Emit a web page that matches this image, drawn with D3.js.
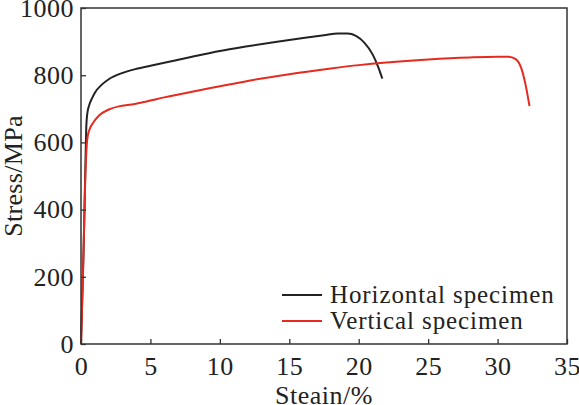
<!DOCTYPE html>
<html>
<head>
<meta charset="utf-8">
<script src="https://cdn.jsdelivr.net/npm/d3@7"></script>
<style>
  body { margin: 0; background: #fff; }
  text { font-family: "Liberation Serif", "Times New Roman", serif; fill: #222; }
</style>
</head>
<body>
<div id="chart"></div>
<script>
// dados
const seriesNames = ["Horizontal specimen", "Vertical specimen"];
const horizStrain = [0, 0.2, 0.3, 0.38, 0.45, 0.6, 0.8, 1, 1.5, 2, 3, 4, 5, 6, 8, 10, 12, 14, 16, 17.5, 18.5, 19.2, 19.8, 20.4, 21, 21.4, 21.7];
const horizStress = [0, 300, 500, 645, 685, 712, 732, 748, 772, 788, 807, 819, 828, 837, 855, 872, 886, 899, 911, 919, 924, 924, 917, 897, 862, 825, 790];
const vertStrain = [0, 0.15, 0.3, 0.45, 0.6, 0.9, 1.3, 2, 2.8, 3.5, 4.5, 6, 8, 10, 12, 15, 18, 20, 22, 25, 28, 30, 30.8, 31.3, 31.7, 32, 32.3];
const vertStress = [0, 220, 480, 610, 637, 660, 680, 698, 708, 712, 720, 734, 751, 767, 783, 803, 820, 830, 838, 847, 853, 855, 855, 848, 822, 775, 708];
const xTicks = [0, 5, 10, 15, 20, 25, 30, 35];
const yTicks = [0, 200, 400, 600, 800, 1000];
const colors = ["#222222", "#e62a1f"];

const W = 579, H = 405;
const margin = { top: 8, right: 12, bottom: 61, left: 81 };
const width = W - margin.left - margin.right;
const height = H - margin.top - margin.bottom;

const svg = d3.select("#chart").append("svg")
    .attr("width", W).attr("height", H);
const g = svg.append("g").attr("transform", `translate(${margin.left},${margin.top})`);

const x = d3.scaleLinear().domain([0, 35]).range([0, width]);
const y = d3.scaleLinear().domain([0, 1000]).range([height, 0]);

// curvas
const line = d3.line().x(d => x(d[0])).y(d => y(d[1])).curve(d3.curveMonotoneX);
const series = [
  d3.zip(horizStrain, horizStress),
  d3.zip(vertStrain, vertStress)
];
series.forEach((s, i) => {
  g.append("path").datum(s)
    .attr("fill", "none")
    .attr("stroke", colors[i])
    .attr("stroke-width", 2)
    .attr("d", line);
});

// eixos
const xAxis = g.append("g").attr("transform", `translate(0,${height})`)
    .call(d3.axisBottom(x).tickValues(xTicks).tickFormat(d3.format("d"))
      .tickSizeInner(-5).tickSizeOuter(0).tickPadding(13));
const yAxis = g.append("g")
    .call(d3.axisLeft(y).tickValues(yTicks).tickFormat(d3.format("d"))
      .tickSizeInner(-5).tickSizeOuter(0).tickPadding(7));
[xAxis, yAxis].forEach(a => {
  a.select(".domain").remove();
  a.selectAll("line").attr("stroke", "#333").attr("stroke-width", 1.3);
  a.selectAll("text").style("font-size", "26px").style("letter-spacing", "0.5px").attr("fill", "#222");
});
xAxis.selectAll("text").attr("dy", "0.71em");

// moldura
g.append("rect").attr("width", width).attr("height", height)
  .attr("fill", "none").attr("stroke", "#333").attr("stroke-width", 1.5);

// legenda
seriesNames.forEach((name, i) => {
  const ly = 287 + i * 26;
  g.append("line")
    .attr("x1", 201).attr("x2", 241)
    .attr("y1", ly).attr("y2", ly)
    .attr("stroke", colors[i]).attr("stroke-width", 2);
  g.append("text")
    .attr("x", 249).attr("y", ly + 8)
    .style("font-size", "25px")
    .style("letter-spacing", "0.9px")
    .text(name);
});

// títulos dos eixos
svg.append("text")
  .attr("x", margin.left + width / 2).attr("y", 404)
  .attr("text-anchor", "middle")
  .style("font-size", "26px")
  .style("letter-spacing", "0.5px")
  .text("Steain/%");
svg.append("text")
  .attr("transform", `translate(22,${margin.top + height / 2}) rotate(-90)`)
  .attr("text-anchor", "middle")
  .style("font-size", "26px")
  .style("letter-spacing", "0.3px")
  .text("Stress/MPa");
</script>
</body>
</html>
